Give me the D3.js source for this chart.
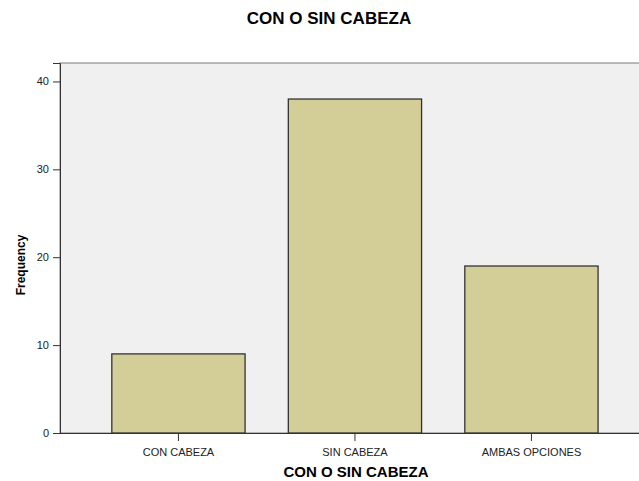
<!DOCTYPE html>
<html>
<head>
<meta charset="utf-8">
<script src="https://cdn.jsdelivr.net/npm/d3@7"></script>
<style>
  body { margin: 0; background: #fff; }
  text { font-family: Arial, "Liberation Sans", sans-serif; }
</style>
</head>
<body>
<div id="chart"></div>
<script>
// data
var categories = ["CON CABEZA", "SIN CABEZA", "AMBAS OPCIONES"];
var counts = [9, 38, 19];
var yTicks = [0, 10, 20, 30, 40];

var width = 639, height = 481;
var plotLeft = 60, plotTop = 63, plotRight = 639, plotBottom = 433;

var svg = d3.select("#chart").append("svg")
    .attr("width", width)
    .attr("height", height);

// scales
var y = d3.scaleLinear().domain([0, 42.1]).range([plotBottom, plotTop]);
var x = d3.scaleBand()
    .domain(categories)
    .range([90.2, 619.7])
    .paddingInner(0.245)
    .paddingOuter(0.1225);

// plot background
svg.append("rect")
    .attr("x", plotLeft)
    .attr("y", plotTop)
    .attr("width", plotRight - plotLeft + 2)
    .attr("height", plotBottom - plotTop)
    .style("fill", "#f0f0f0")
    .style("stroke", "#7a7a7a")
    .style("stroke-width", 1);

// bars
svg.selectAll(".bar")
    .data(counts)
    .enter().append("rect")
    .attr("class", "bar")
    .attr("x", function(d, i) { return x(categories[i]); })
    .attr("y", function(d) { return y(d); })
    .attr("width", x.bandwidth())
    .attr("height", function(d) { return plotBottom - y(d); })
    .style("fill", "#d3ce97")
    .style("stroke", "#333")
    .style("stroke-width", 1.3);

// y axis
var yAxis = svg.append("g")
    .attr("transform", "translate(" + plotLeft + ",0)")
    .call(d3.axisLeft(y).tickValues(yTicks).tickSize(7).tickPadding(4));
yAxis.select(".domain").attr("stroke", "#333");
yAxis.selectAll(".tick line").attr("stroke", "#333");
yAxis.selectAll("text").style("font-size", "11px").style("fill", "#222");

// x axis
var xAxis = svg.append("g")
    .attr("transform", "translate(0," + plotBottom + ")")
    .call(d3.axisBottom(x).tickSize(8).tickPadding(7).tickSizeOuter(0));
xAxis.select(".domain").attr("d", "M" + plotLeft + ",0.5H" + (plotRight + 1)).attr("stroke", "#333");
xAxis.selectAll(".tick line").attr("stroke", "#333");
xAxis.selectAll("text").style("font-size", "11px").style("fill", "#222");

// titles
svg.append("text")
    .attr("x", 329)
    .attr("y", 24)
    .attr("text-anchor", "middle")
    .style("font-size", "17px")
    .style("font-weight", "bold")
    .text("CON O SIN CABEZA");

svg.append("text")
    .attr("x", 356)
    .attr("y", 477)
    .attr("text-anchor", "middle")
    .style("font-size", "15px")
    .style("font-weight", "bold")
    .text("CON O SIN CABEZA");

svg.append("text")
    .attr("transform", "translate(25,265) rotate(-90)")
    .attr("text-anchor", "middle")
    .style("font-size", "12px")
    .style("font-weight", "bold")
    .text("Frequency");
</script>
</body>
</html>
